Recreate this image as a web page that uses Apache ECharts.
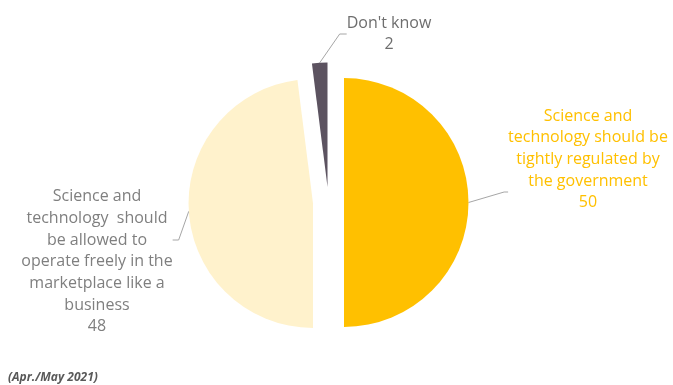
<!DOCTYPE html>
<html>
<head>
<meta charset="utf-8">
<script src="https://cdn.jsdelivr.net/npm/echarts@6/dist/echarts.min.js"></script>
<style>
  html, body { margin: 0; padding: 0; background: #fff; }
  #chart { width: 673px; height: 385px; }
</style>
</head>
<body>
<div id="chart"></div>
<script>
// 数据：回答类别与百分比
const categories = [
  'Science and\ntechnology should be\ntightly regulated by\nthe government',
  'Science and\ntechnology  should\nbe allowed to\noperate freely in the\nmarketplace like a\nbusiness',
  "Don't know"
];
const values = [50, 48, 2];
const colors = ['#FFC000', '#FFF2CC', '#5C5360'];
const labelColors = ['#FFC000', '#7F7F7F', '#6E6E6E'];

// 布局参数
const pieCenter = [328.5, 202.5];
const pieRadius = 124.5;
const explode = 15.5;
// 标签框中心、上下空行数（用于让引导线落在文字块的非中间位置）、引导线末段长度
const labelPos = [[588, 192], [97, 240], [389, 34]];
const blankLines = [[0, 3], [2, 0], [0, 0]];
const lineLen2 = [4, 6, 7];

// 每个扇区单独一个系列，按中角方向偏移圆心（模拟分离饼图）
const total = values.reduce((a, b) => a + b, 0);
let acc = 0;
const centers = values.map(v => {
  const mid = (acc + v / 2) / total * Math.PI * 2;
  acc += v;
  return [pieCenter[0] + explode * Math.sin(mid), pieCenter[1] - explode * Math.cos(mid)];
});

const chart = echarts.init(document.getElementById('chart'));

const series = values.map((_, k) => ({
  type: 'pie',
  center: centers[k],
  radius: [0, pieRadius],
  startAngle: 90,
  clockwise: true,
  avoidLabelOverlap: false,
  emphasis: { disabled: true },
  itemStyle: { borderWidth: 0 },
  label: {
    position: 'outside',
    fontFamily: 'Open Sans',
    fontSize: 16,
    lineHeight: 21.7,
    formatter: p => '\n'.repeat(blankLines[p.dataIndex][0]) + p.name + '\n' + p.value +
      '\n'.repeat(blankLines[p.dataIndex][1])
  },
  labelLine: { lineStyle: { color: '#A6A6A6', width: 1 } },
  labelLayout: p => p.dataIndex === k ? {
    x: labelPos[k][0],
    y: labelPos[k][1],
    align: 'center',
    verticalAlign: 'middle'
  } : {},
  data: values.map((v, i) => ({
    name: categories[i],
    value: v,
    itemStyle: { color: i === k ? colors[i] : 'rgba(0,0,0,0)' },
    label: i === k ? { show: true, color: labelColors[i] } : { show: false },
    labelLine: i === k ? { show: true, length2: lineLen2[i] } : { show: false }
  }))
}));

chart.setOption({
  animation: false,
  backgroundColor: '#fff',
  graphic: [{
    type: 'text',
    left: 8,
    top: 372,
    style: {
      text: '(Apr./May 2021)',
      fontFamily: 'Open Sans',
      fontSize: 12,
      fontWeight: 'bold',
      fontStyle: 'italic',
      fill: '#595959'
    }
  }],
  series: series
});
</script>
</body>
</html>
